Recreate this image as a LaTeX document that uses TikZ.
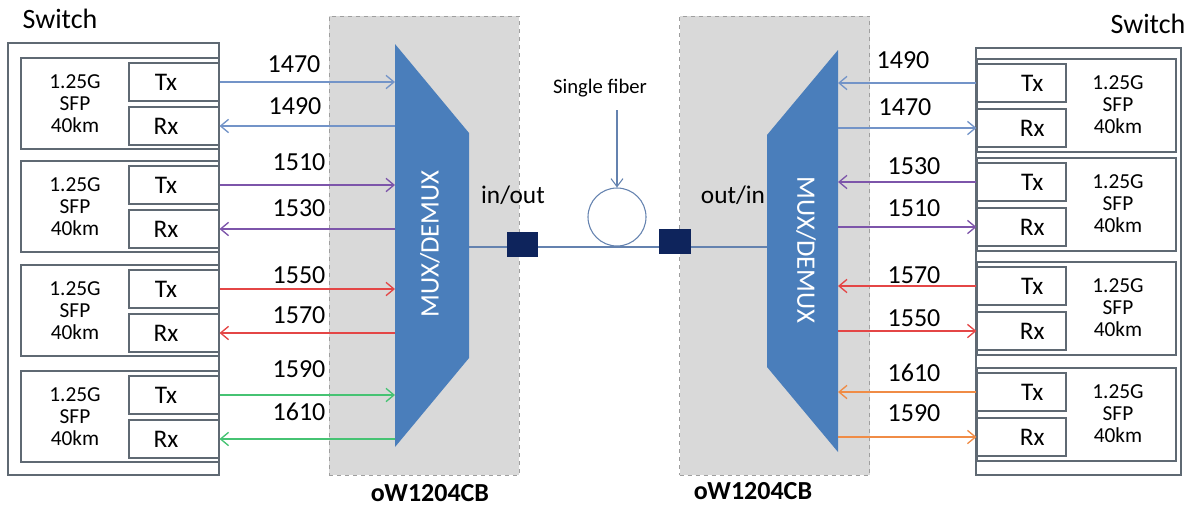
\documentclass[tikz,border=0pt]{standalone}
\usepackage{fontspec}
\setmainfont{Carlito}
\usetikzlibrary{arrows.meta}
\definecolor{cblue}{RGB}{115,148,200}
\definecolor{cpurple}{RGB}{125,85,170}
\definecolor{cred}{RGB}{228,70,70}
\definecolor{cgreen}{RGB}{70,195,115}
\definecolor{corange}{RGB}{240,140,70}
\definecolor{muxblue}{RGB}{74,126,187}
\definecolor{grayfill}{RGB}{217,217,217}
\definecolor{navy}{RGB}{14,36,92}
\definecolor{boxline}{RGB}{95,105,115}
\definecolor{fiber}{RGB}{100,130,175}
\begin{document}
\begin{tikzpicture}[x=0.75pt,y=-0.75pt,
  outerbox/.style={draw=boxline,line width=0.8pt,fill=white,inner sep=0pt},
  sfpbox/.style={draw=boxline,line width=0.8pt,inner sep=0pt},
  portbox/.style={draw=boxline,line width=0.8pt,fill=white,inner sep=0pt,minimum height=28.5pt},
  porttext/.style={font=\fontsize{19}{21}\selectfont,inner sep=0pt},
  sfptext/.style={align=center,font=\fontsize{16}{16.5}\selectfont,inner sep=0pt},
  wl/.style={font=\fontsize{19.5}{21}\selectfont,inner sep=0pt},
  arr/.style={line width=1pt,-{Straight Barb[length=6pt,width=10pt]}},
  graybox/.style={draw=gray!75,dashed,line width=0.7pt,fill=grayfill,inner sep=0pt,minimum width=142.5pt,minimum height=344.25pt},
  sq/.style={fill=navy,inner sep=0pt,minimum height=18.75pt},
  devname/.style={font=\bfseries\fontsize{19.5}{21}\selectfont,inner sep=0pt}
]
\useasboundingbox (0,0) rectangle (1189,508);

% device boxes
\node[graybox] (GL) at (424,245.5) {};
\node[graybox] (GR) at (774.5,245.5) {};

% MUX shapes
\fill[muxblue] (395,44) -- (469,133) -- (469,358) -- (395,447) -- cycle;
\fill[muxblue] (838,50) -- (767,135) -- (767,367) -- (838,452) -- cycle;
\coordinate (ML) at (395,0);
\coordinate (MLr) at (469,247);
\coordinate (MR) at (838,0);
\coordinate (MRl) at (767,247);
\node[rotate=90,text=white,font=\fontsize{20}{22}\selectfont] (muxL) at (430,244) {MUX/DEMUX};
\node[rotate=-90,text=white,font=\fontsize{20}{22}\selectfont] (muxR) at (806,250) {MUX/DEMUX};

% fiber
\draw[fiber,line width=1pt] (MLr) -- (MRl);
\node[draw=fiber,line width=0.8pt,circle,minimum size=43.5pt,inner sep=0pt] (coil) at (617,217) {};
\node[font=\fontsize{15.5}{17}\selectfont] (sf) at (600,88) {Single fiber};
\draw[fiber,line width=0.8pt,-{Straight Barb[length=6pt,width=9pt]}] (coil.north |- 0,110) -- (coil.north);
\node[sq,minimum width=23.25pt] (pL) at (522.5,244.5) {};
\node[sq,minimum width=24pt] (pR) at (675,241.5) {};
\node[font=\fontsize{19}{21}\selectfont] (io) at (513,195) {in/out};
\node[font=\fontsize{19}{21}\selectfont] (oi) at (733,195) {out/in};

\node[devname] (nameL) at (430,493) {oW1204CB};
\node[devname] (nameR) at (753,491) {oW1204CB};

% left switch
\node[font=\fontsize{21}{23}\selectfont] (swL) at (60,19) {Switch};
\node[outerbox,minimum width=158.25pt,minimum height=324pt] (SWL) at (113.5,259) {};
\foreach \i/\t in {1/58,2/161,3/265,4/371}{
  \node[sfpbox,minimum width=148.5pt,minimum height=68.25pt] (LS\i) at (120,\t+45.5) {};
  \node[portbox,minimum width=67.5pt,label={[porttext,xshift=-6pt]center:Tx}] (LT\i) at (174,\t+24) {};
  \node[portbox,minimum width=67.5pt,label={[porttext,xshift=-6pt]center:Rx}] (LR\i) at (174,\t+68) {};
  \node[sfptext] (LX\i) at (75,\t+46) {1.25G\\SFP\\40km};
}

% right switch
\node[font=\fontsize{21}{23}\selectfont] (swR) at (1148,24) {Switch};
\node[outerbox,minimum width=153.75pt,minimum height=320.25pt] (SWR) at (1078.5,261.5) {};
\foreach \i/\t in {1/59,2/158,3/262,4/368}{
  \node[sfpbox,minimum width=149.25pt,minimum height=69.75pt] (RS\i) at (1076.5,\t+46.5) {};
  \node[portbox,minimum width=66.75pt,label={[porttext,xshift=8pt]center:Tx}] (RT\i) at (1021.5,\t+24) {};
  \node[portbox,minimum width=66.75pt,label={[porttext,xshift=8pt]center:Rx}] (RR\i) at (1021.5,\t+69) {};
  \node[sfptext] (RX\i) at (1118,\t+46) {1.25G\\SFP\\40km};
}

% left arrows
\draw[arr,cblue] (LT1.east) -- (LT1.east -| ML);
\draw[arr,cblue] (LR1.east -| ML) -- (LR1.east);
\draw[arr,cpurple] (LT2.east) -- (LT2.east -| ML);
\draw[arr,cpurple] (LR2.east -| ML) -- (LR2.east);
\draw[arr,cred] (LT3.east) -- (LT3.east -| ML);
\draw[arr,cred] (LR3.east -| ML) -- (LR3.east);
\draw[arr,cgreen] (LT4.east) -- (LT4.east -| ML);
\draw[arr,cgreen] (LR4.east -| ML) -- (LR4.east);
\node[wl] (l1470) at (294,64) {1470};
\node[wl] (l1490) at (295,106) {1490};
\node[wl] (l1510) at (299,162) {1510};
\node[wl] (l1530) at (299,208) {1530};
\node[wl] (l1550) at (299,275) {1550};
\node[wl] (l1570) at (299,315) {1570};
\node[wl] (l1590) at (299,369) {1590};
\node[wl] (l1610) at (299,412) {1610};

% right arrows
\draw[arr,cblue] (RT1.west) -- (RT1.west -| MR);
\draw[arr,cblue] (RR1.west -| MR) -- (RR1.west);
\draw[arr,cpurple] (RT2.west) -- (RT2.west -| MR);
\draw[arr,cpurple] (RR2.west -| MR) -- (RR2.west);
\draw[arr,cred] (RT3.west) -- (RT3.west -| MR);
\draw[arr,cred] (RR3.west -| MR) -- (RR3.west);
\draw[arr,corange] (RT4.west) -- (RT4.west -| MR);
\draw[arr,corange] (RR4.west -| MR) -- (RR4.west);
\node[wl] (r1490) at (903,60) {1490};
\node[wl] (r1470) at (905,107) {1470};
\node[wl] (r1530) at (914,166) {1530};
\node[wl] (r1510) at (914,208) {1510};
\node[wl] (r1570) at (914,275) {1570};
\node[wl] (r1550) at (914,318) {1550};
\node[wl] (r1610) at (914,373) {1610};
\node[wl] (r1590) at (914,413) {1590};
\end{tikzpicture}
\end{document}
